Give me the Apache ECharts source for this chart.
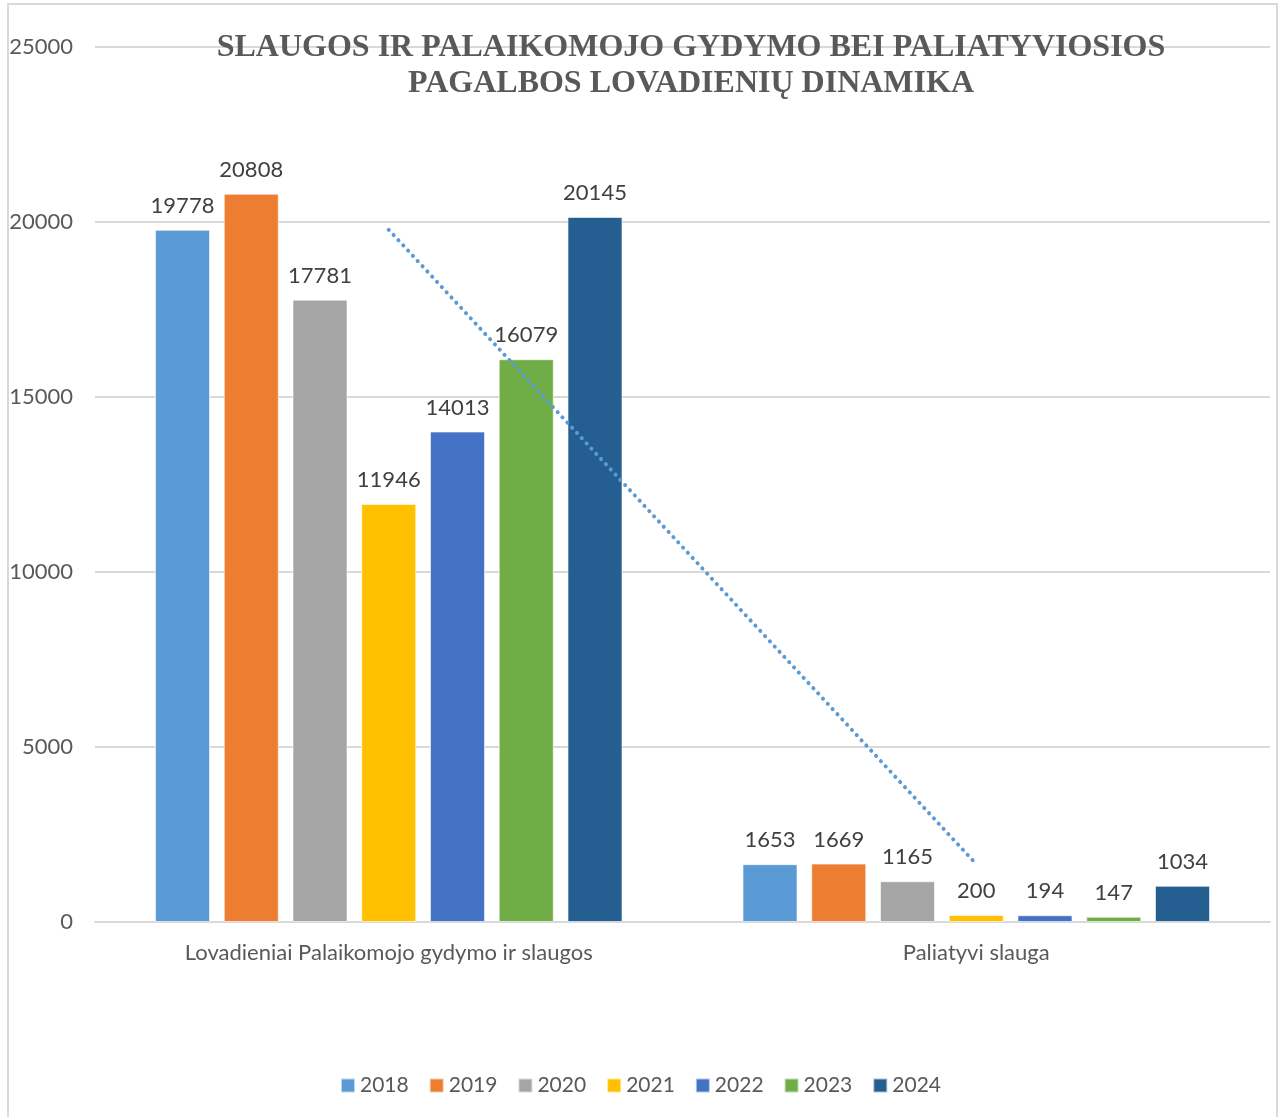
<!DOCTYPE html>
<html lang="lt">
<head>
    <meta charset="UTF-8">
    <title>Lovadieniai</title>
    <style>
        body { margin: 0; padding: 0; background: #fff; }
        #chart { width: 1281px; height: 1117px; }
    </style>
    <script src="https://cdn.jsdelivr.net/npm/echarts@6/dist/echarts.min.js"></script>
</head>
<body>
<div id="chart"></div>
<script>
    var categories = ['Lovadieniai Palaikomojo gydymo ir slaugos', 'Paliatyvi slauga'];
    var years = ['2018', '2019', '2020', '2021', '2022', '2023', '2024'];
    var colors = ['#5b9bd5', '#ed7d31', '#a5a5a5', '#ffc000', '#4472c4', '#70ad47', '#255e91'];
    var v2018 = [19778, 1653];
    var v2019 = [20808, 1669];
    var v2020 = [17781, 1165];
    var v2021 = [11946, 200];
    var v2022 = [14013, 194];
    var v2023 = [16079, 147];
    var v2024 = [20145, 1034];
    var values = [v2018, v2019, v2020, v2021, v2022, v2023, v2024];

    // linear trend of the 2018 series
    function linearTrend(arr) {
        var n = arr.length, sx = 0, sy = 0, sxy = 0, sxx = 0;
        for (var i = 0; i < n; i++) {
            sx += i; sy += arr[i]; sxy += i * arr[i]; sxx += i * i;
        }
        var b = (n * sxy - sx * sy) / (n * sxx - sx * sx);
        var a = (sy - b * sx) / n;
        return arr.map(function (_, i) { return a + b * i; });
    }

    var font = 'Lato';
    var chart = echarts.init(document.getElementById('chart'));

    var series = years.map(function (y, i) {
        return {
            name: y,
            type: 'bar',
            data: values[i],
            barWidth: 55,
            barGap: '25%',
            itemStyle: { color: colors[i], borderColor: 'rgba(255,255,255,0.6)', borderWidth: 1 },
            label: {
                show: true,
                position: 'top',
                distance: 13,
                color: '#404040',
                fontFamily: font,
                fontSize: 22
            }
        };
    });
    series.push({
        name: 'trend',
        type: 'line',
        data: linearTrend(v2018),
        symbol: 'none',
        z: 5,
        silent: true,
        lineStyle: { color: '#5b9bd5', width: 4, type: [0.1, 7], cap: 'round' }
    });

    chart.setOption({
        animation: false,
        color: colors,
        title: {
            text: 'SLAUGOS IR PALAIKOMOJO GYDYMO BEI PALIATYVIOSIOS\nPAGALBOS LOVADIENIŲ DINAMIKA',
            left: 686,
            top: 25,
            textAlign: 'center',
            textStyle: {
                fontFamily: 'Liberation Serif',
                fontWeight: 'bold',
                fontSize: 32,
                lineHeight: 36,
                color: '#595959'
            }
        },
        graphic: [{
            type: 'rect',
            shape: { x: 8, y: 4, width: 1269, height: 1130 },
            style: { fill: 'none', stroke: '#d9d9d9', lineWidth: 2 },
            z: -1
        }],
        legend: {
            data: years,
            bottom: 16,
            left: 'center',
            itemWidth: 14,
            itemHeight: 14,
            itemGap: 20,
            icon: 'rect',
            textStyle: { fontFamily: font, fontSize: 21, color: '#595959' }
        },
        grid: { left: 95, right: 11, top: 47, bottom: 195 },
        xAxis: {
            type: 'category',
            data: categories,
            axisLine: { lineStyle: { color: '#d9d9d9', width: 2 } },
            axisTick: { show: false },
            axisLabel: { fontFamily: font, fontSize: 22, color: '#595959', margin: 20 }
        },
        yAxis: {
            type: 'value',
            min: 0,
            max: 25000,
            interval: 5000,
            axisLine: { show: false },
            axisTick: { show: false },
            axisLabel: {
                fontFamily: font, fontSize: 22, color: '#595959', margin: 22,
                formatter: function (v) { return String(v); }
            },
            splitLine: { lineStyle: { color: '#d9d9d9', width: 2 } }
        },
        series: series
    });
    window.onresize = chart.resize;
</script>
</body>
</html>
